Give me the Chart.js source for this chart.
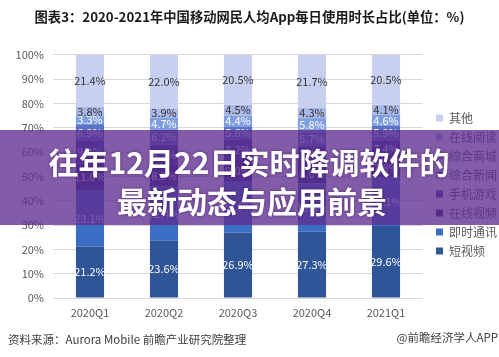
<!DOCTYPE html>
<html><head><meta charset="utf-8">
<script src="https://cdn.jsdelivr.net/npm/chart.js@4.4.1/dist/chart.umd.min.js"></script>
<style>html,body{margin:0;padding:0;background:#fff;overflow:hidden}#wrap{width:499px;height:357px;position:relative}</style>
</head><body><div id="wrap"><canvas id="c" width="499" height="357"></canvas></div>
<script>
const categories = ['2020Q1','2020Q2','2020Q3','2020Q4','2021Q1'];
const seriesNames = ['短视频','即时通讯','在线视频','手机游戏','综合新闻','综合商城','在线阅读','其他'];
const shortVideo = [21.2,23.6,26.9,27.3,29.6];
const instantMsg = [23.1,22.4,20.9,19.8,20.1];
const onlineVideo = [11.0,8.9,9.0,8.0,7.8];
const mobileGame = [9.3,8.3,8.2,7.4,7.4];
const news = [6.9,6.2,5.6,5.7,5.9];
const mall = [3.3,4.7,4.4,5.8,4.6];
const reading = [3.8,3.9,4.5,4.3,4.1];
const others = [21.4,22.0,20.5,21.7,20.5];
const yTicks = [0,10,20,30,40,50,60,70,80,90,100];
const chartTitle = '图表3：2020-2021年中国移动网民人均App每日使用时长占比(单位：%)';
const sourceText = '资料来源：Aurora Mobile 前瞻产业研究院整理';
const brandText = '@前瞻经济学人APP';
const bannerLines = ['往年12月22日实时降调软件的','最新动态与应用前景'];

const seriesValues = [shortVideo, instantMsg, onlineVideo, mobileGame, news, mall, reading, others];
const colors = ['#2F5597','#3C6EC6','#2A2F86','#34409E','#5B73C8','#7F9EE0','#AAB8E8','#C8D0F1'];
const labelColors = ['#fff','#fff','#fff','#fff','#fff','#fff','#333','#333'];
const FONT = '"Noto Sans CJK SC","Noto Sans",sans-serif';

const datasets = seriesNames.map((n,i)=>({
  label:n, data:seriesValues[i], backgroundColor:colors[i], borderWidth:0,
  categoryPercentage:1, barPercentage:0.38
}));

const labelPlugin = {
  id:'segLabels',
  afterDatasetsDraw(chart){
    const ctx = chart.ctx;
    ctx.save();
    ctx.font = '11px ' + FONT;
    ctx.textAlign='center'; ctx.textBaseline='middle';
    chart.data.datasets.forEach((ds,di)=>{
      const meta = chart.getDatasetMeta(di);
      meta.data.forEach((el,j)=>{
        const v = ds.data[j];
        ctx.fillStyle = labelColors[di];
        ctx.fillText(v.toFixed(1)+'%', el.x, (el.y+el.base)/2);
      });
    });
    ctx.restore();
  }
};

const legendShift = {
  id:'legendShift',
  afterLayout(chart){
    const lg = chart.legend;
    if(!lg) return;
    lg.left += 6; lg.right += 6; lg.top += 8; lg.bottom += 8;
  }
};

const overlayPlugin = {
  id:'overlay',
  afterDraw(chart){
    const ctx = chart.ctx;
    ctx.save();
    ctx.font = '11.5px ' + FONT;
    ctx.fillStyle = '#404040';
    ctx.textBaseline='middle';
    ctx.textAlign='left';
    ctx.fillText(sourceText, 8, 340);
    ctx.textAlign='right';
    ctx.fillText(brandText, 498, 338);
    ctx.fillStyle = 'rgba(95,45,145,0.78)';
    ctx.fillRect(0,130,499,95);
    ctx.font = 'bold 30px ' + FONT;
    ctx.fillStyle = '#fff';
    ctx.textAlign='center';
    ctx.shadowColor='rgba(40,10,60,0.5)';
    ctx.shadowBlur=3;
    ctx.fillText(bannerLines[0], 249, 163);
    ctx.fillText(bannerLines[1], 252, 202);
    ctx.restore();
  }
};

new Chart(document.getElementById('c'), {
  type:'bar',
  data:{labels:categories, datasets},
  options:{
    responsive:false, animation:false, devicePixelRatio:1,
    layout:{padding:{left:0,right:0,top:0,bottom:35}},
    plugins:{
      title:{display:true, text:chartTitle, color:'#1a1a1a', font:{family:FONT, size:13.3, weight:'bold'}, padding:{top:9,bottom:30}},
      legend:{position:'right', fullSize:false, reverse:true, maxWidth:76,
        labels:{boxWidth:7, boxHeight:7, padding:7, color:'#595959', font:{family:FONT, size:12}}},
      tooltip:{enabled:false}
    },
    scales:{
      x:{stacked:true, grid:{display:false, drawTicks:false}, border:{display:false},
        ticks:{color:'#595959', padding:8, font:{family:FONT, size:11}},
        afterFit(s){ s.height = 24; }},
      y:{stacked:true, min:0, max:100,
        afterBuildTicks(s){ s.ticks = yTicks.map(v=>({value:v})); },
        grid:{color:'#D9D9D9', drawTicks:false}, border:{display:false},
        ticks:{color:'#595959', padding:9, font:{family:FONT, size:11}, callback:v=>v+'%'},
        afterFit(s){ s.width = 53; }}
    }
  },
  plugins:[labelPlugin, legendShift, overlayPlugin]
});
</script></body></html>
